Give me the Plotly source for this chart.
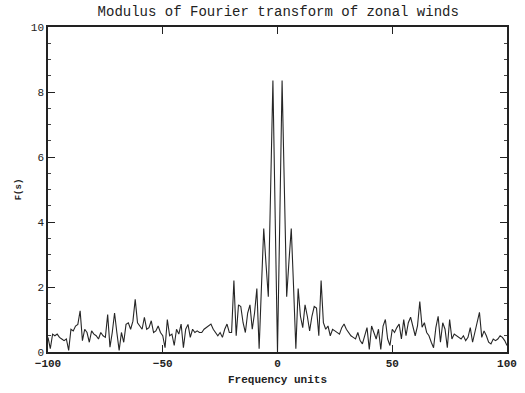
import numpy as np
import plotly.graph_objects as go

freq = list(range(-100, 101))
modulus = [
    0.45, 0.1, 0.55, 0.5, 0.55, 0.45, 0.4, 0.35, 0.4, 0.05,   # -100..-91
    0.7, 0.65, 0.8, 0.85, 1.27, 0.35, 0.7, 0.6, 0.3, 0.65,    # -90..-81
    0.55, 0.5, 0.4, 0.6, 0.5, 0.45, 1.15, 0.15, 0.6, 1.2,     # -80..-71
    0.6, 0.05, 0.6, 0.3, 0.85, 0.9, 0.7, 0.95, 1.62, 0.9,     # -70..-61
    0.8, 0.7, 1.07, 0.7, 0.75, 0.96, 0.6, 0.65, 0.8, 0.6,     # -60..-51
    0.5, 0.13, 1.0, 0.5, 0.55, 0.2, 0.7, 0.55, 0.86, 0.13,    # -50..-41
    0.7, 0.85, 0.45, 0.7, 0.6, 0.65, 0.6, 0.6, 0.7, 0.75,     # -40..-31
    0.8, 0.86, 0.7, 0.6, 0.5, 0.6, 0.45, 0.7, 0.86, 0.6,      # -30..-21
    0.6, 2.2, 0.5, 1.45, 1.4, 0.9, 0.6, 1.2, 1.45, 0.7,       # -20..-11
    1.2, 1.95, 0.1, 2.0, 3.8, 2.7, 1.7, 5.0, 8.35, 4.1,       # -10..-1
    0.0,                                                      # 0
    4.1, 8.35, 5.0, 1.7, 2.8, 3.8, 2.0, 0.1, 1.95, 1.1,       # 1..10
    0.75, 1.45, 1.1, 0.65, 1.1, 1.4, 1.35, 0.5, 2.2, 0.9,     # 11..20
    0.7, 0.8, 0.5, 0.7, 0.65, 0.6, 0.55, 0.75, 0.86, 0.7,     # 21..30
    0.6, 0.5, 0.45, 0.4, 0.6, 0.35, 0.25, 0.55, 0.75, 0.08,   # 31..40
    0.8, 0.6, 0.4, 0.7, 0.08, 0.8, 1.0, 0.4, 0.2, 0.7,        # 41..50
    0.6, 0.75, 0.86, 0.4, 1.0, 0.5, 0.9, 1.07, 0.75, 0.5,     # 51..60
    0.8, 1.55, 0.76, 0.9, 0.6, 0.5, 0.3, 0.13, 0.75, 1.1,     # 61..70
    0.3, 0.9, 0.7, 0.13, 1.0, 0.4, 0.55, 0.5, 0.45, 0.4,      # 71..80
    0.5, 0.35, 0.45, 0.75, 0.3, 0.6, 0.9, 1.22, 0.45, 0.65,   # 81..90
    0.5, 0.3, 0.25, 0.4, 0.35, 0.4, 0.5, 0.45, 0.35, 0.2,     # 91..100
]

x_ticks = [-100, -50, 0, 50, 100]
y_ticks = [0, 2, 4, 6, 8, 10]

fig = go.Figure()
fig.add_trace(go.Scatter(x=freq, y=modulus, mode="lines",
                         line=dict(color="#262626", width=1.1)))

font = "Liberation Mono, Courier New, monospace"
fig.update_layout(
    width=525, height=393,
    margin=dict(l=48, r=18, t=27, b=41),
    paper_bgcolor="white", plot_bgcolor="white",
    showlegend=False,
    title=dict(text="Modulus of Fourier transform of zonal winds",
               x=0.53, xanchor="center", y=0.972, yanchor="middle",
               font=dict(family=font, size=14, color="#222")),
    font=dict(family=font, color="#222"),
)
fig.update_xaxes(
    range=[-100, 100], tickvals=x_ticks, automargin=False,
    ticks="inside", ticklen=7, tickwidth=1.2, tickcolor="#222",
    showline=True, linecolor="#222", linewidth=2, mirror="allticks",
    showgrid=False, zeroline=False,
    tickfont=dict(size=11, family=font, weight="bold"),
    title=dict(text="<b>Frequency units</b>", font=dict(size=11, family=font), standoff=6),
)
fig.update_yaxes(
    range=[0, 10], tickvals=y_ticks, automargin=False,
    ticks="inside", ticklen=7, tickwidth=1.2, tickcolor="#222",
    minor=dict(dtick=0.5, ticks="inside", ticklen=3, tickcolor="#444"),
    showline=True, linecolor="#222", linewidth=1.5, mirror="allticks",
    showgrid=False, zeroline=False,
    tickfont=dict(size=11, family=font),
    title=dict(text="<b>F(s)</b>", font=dict(size=9, family=font), standoff=8),
)

fig.write_html("out.html")
